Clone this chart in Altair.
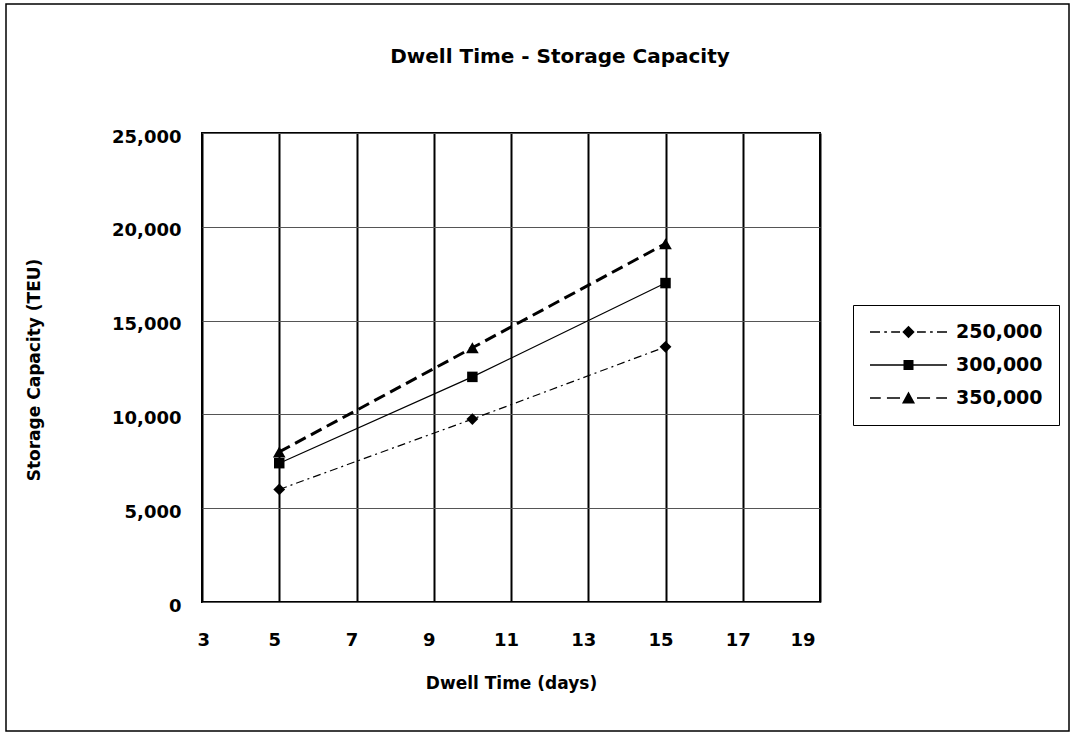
import altair as alt
import pandas as pd

# ---- data ----
dwell_days = [5, 10, 15]
series_names = ["250,000", "300,000", "350,000"]
cap_250 = [6000, 9750, 13600]
cap_300 = [7400, 12000, 17000]
cap_350 = [8000, 13550, 19100]
x_ticks = [3, 5, 7, 9, 11, 13, 15, 17, 19]
y_ticks = [0, 5000, 10000, 15000, 20000, 25000]

rows = []
for name, vals in zip(series_names, [cap_250, cap_300, cap_350]):
    for d, v in zip(dwell_days, vals):
        rows.append({"series": name, "days": d, "cap": v})
df = pd.DataFrame(rows)

FONT = "DejaVu Sans"
W, H = 618, 469

x_enc = alt.X(
    "days:Q",
    scale=alt.Scale(domain=[3, 19], nice=False, zero=False),
    axis=alt.Axis(
        values=x_ticks, grid=True, gridColor="black", gridWidth=2,
        ticks=False, domain=False, labelPadding=29, labelOffset=-5,
        labelFont=FONT, labelFontSize=18, labelFontWeight="bold", labelColor="black",
        title="Dwell Time (days)", titleFont=FONT, titleFontSize=17,
        titleFontWeight="bold", titleColor="black", titlePadding=26,
    ),
)
y_enc = alt.Y(
    "cap:Q",
    scale=alt.Scale(domain=[0, 25000], nice=False),
    axis=alt.Axis(
        values=y_ticks, format=",d", grid=True, gridColor="#555555", gridWidth=1,
        ticks=False, domain=False, labelPadding=21, labelOffset=4,
        labelFont=FONT, labelFontSize=18, labelFontWeight="bold", labelColor="black",
        title="Storage Capacity (TEU)", titleFont=FONT, titleFontSize=17,
        titleFontWeight="bold", titleColor="black",
        titleX=-168, titleY=H / 2 + 2, titleBaseline="middle", titleAngle=270,
    ),
)

styles = {
    "250,000": dict(dash=[8, 4, 2, 4], width=1.2, shape="diamond", size=140),
    "300,000": dict(dash=None, width=1.2, shape="square", size=110),
    "350,000": dict(dash=[12, 6], width=3, shape="triangle-up", size=160),
}

layers = []
for name in series_names:
    st = styles[name]
    line_kw = dict(color="black", strokeWidth=st["width"])
    if st["dash"] is not None:
        line_kw["strokeDash"] = st["dash"]
    base = alt.Chart(df).transform_filter(alt.datum.series == name)
    layers.append(base.mark_line(**line_kw).encode(x=x_enc, y=y_enc))
    layers.append(
        base.mark_point(shape=st["shape"], filled=True, color="black",
                        size=st["size"], opacity=1).encode(x=x_enc, y=y_enc)
    )


# legend-only layer: custom filled symbols combining line style and marker
def seg(a, b, t=0.022):
    return f"M{a},{-t}H{b}V{t}H{a}Z"


legend_paths = [
    seg(-1, -0.74) + seg(-0.63, -0.56) + seg(-0.45, -0.22)
    + "M0,-0.16L0.16,0L0,0.16L-0.16,0Z"
    + seg(0.22, 0.45) + seg(0.56, 0.63) + seg(0.74, 1),
    seg(-1, 1) + "M-0.13,-0.13H0.13V0.13H-0.13Z",
    seg(-1, -0.72) + seg(-0.56, -0.22)
    + "M0,-0.17L0.17,0.14H-0.17Z"
    + seg(0.22, 0.56) + seg(0.72, 1),
]
SYM = 5929
legend_layer = (
    alt.Chart(df)
    .transform_filter("false")
    .mark_point(filled=True, color="black", size=SYM, opacity=1)
    .encode(
        x=x_enc, y=y_enc,
        shape=alt.Shape(
            "series:N",
            scale=alt.Scale(domain=series_names, range=legend_paths),
            legend=alt.Legend(
                title=None, orient="none", legendX=651, legendY=172,
                padding=16, strokeColor="black", fillColor="white",
                labelFont=FONT, labelFontSize=19, labelFontWeight="bold",
                labelColor="black", labelOffset=8,
                symbolSize=SYM, symbolFillColor="black",
                clipHeight=22, rowPadding=11,
            ),
        ),
    )
)

frame = alt.Chart(pd.DataFrame({"k": [0]})).mark_rect(
    fillOpacity=0, stroke="black", strokeWidth=1.5
).encode(
    x=alt.value(-196), x2=alt.value(867), y=alt.value(-129), y2=alt.value(598)
)

chart = (
    alt.layer(*layers, legend_layer, frame)
    .properties(
        width=W, height=H,
        title=alt.TitleParams(
            "Dwell Time - Storage Capacity", font=FONT, fontSize=20,
            fontWeight="bold", color="black", offset=0, dx=49, dy=64,
        ),
        autosize=alt.AutoSizeParams(type="none"),
        padding={"left": 202, "top": 133, "right": 255, "bottom": 132},
        background="white",
    )
    .configure_view(stroke="black", strokeWidth=2)
)

chart.save("out.html", embed_options={"renderer": "svg", "actions": False})
